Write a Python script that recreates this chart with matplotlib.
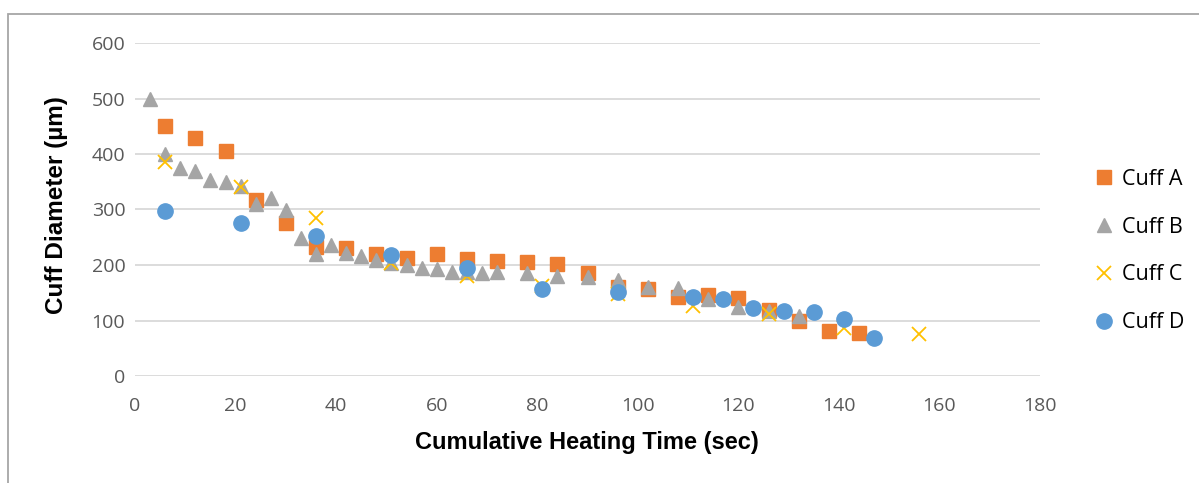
import matplotlib.pyplot as plt
from matplotlib.patches import Rectangle

# Cuff A (squares)
time_a = [6, 12, 18, 24, 30, 36, 42, 48, 54, 60, 66, 72, 78, 84, 90,
          96, 102, 108, 114, 120, 126, 132, 138, 144]
diam_a = [450, 428, 406, 318, 275, 233, 230, 220, 212, 220, 211, 208, 206, 202, 185,
          161, 156, 142, 146, 140, 119, 99, 81, 78]

# Cuff B (triangles)
time_b = [3, 6, 9, 12, 15, 18, 21, 24, 27, 30, 33, 36, 39, 42, 45, 48, 51, 54,
          57, 60, 63, 66, 69, 72, 78, 84, 90, 96, 102, 108, 114, 120, 126, 132]
diam_b = [500, 400, 374, 370, 354, 350, 342, 310, 320, 299, 248, 220, 236, 221, 216, 209, 203, 200,
          195, 192, 187, 188, 185, 188, 185, 180, 179, 173, 161, 158, 138, 125, 118, 108]

# Cuff C (crosses)
time_c = [6, 21, 36, 51, 66, 81, 96, 111, 126, 141, 156]
diam_c = [386, 340, 285, 203, 180, 162, 148, 126, 112, 86, 75]

# Cuff D (circles)
time_d = [6, 21, 36, 51, 66, 81, 96, 111, 117, 123, 129, 135, 141, 147]
diam_d = [298, 276, 252, 218, 194, 157, 151, 143, 139, 122, 118, 116, 103, 68]

fig = plt.figure(figsize=(11.99, 4.83), dpi=100)
ax = fig.add_axes([135 / 1199, 1 - 376 / 483, 905 / 1199, 333 / 483])

# outer chart border (cropped on right/bottom)
fig.patches.append(Rectangle((8 / 1199, -0.1), 1.2, 1 - 14 / 483 + 0.1,
                             transform=fig.transFigure, fill=False,
                             edgecolor='#A6A6A6', linewidth=1.3))

ax.plot(time_a, diam_a, 's', color='#ED7D31', markersize=9.5, label='Cuff A', zorder=3)
ax.plot(time_b, diam_b, '^', color='#A5A5A5', markersize=10, label='Cuff B', zorder=3)
ax.plot(time_c, diam_c, 'x', color='#FFC000', markersize=9.5, markeredgewidth=1.3,
        label='Cuff C', zorder=3)
ax.plot(time_d, diam_d, 'o', color='#5B9BD5', markersize=11, label='Cuff D', zorder=3)

ax.set_xlim(0, 180)
ax.set_ylim(0, 600)
ax.set_xticks(range(0, 181, 20))
ax.set_yticks(range(0, 601, 100))
ax.grid(axis='y', color='#D9D9D9', linewidth=1.3)
ax.set_axisbelow(True)
for s in ax.spines.values():
    s.set_visible(False)
ax.tick_params(length=0, labelcolor='#595959', labelsize=14)
ax.tick_params(axis='x', pad=15)
ax.tick_params(axis='y', pad=7)
for lbl in ax.get_xticklabels() + ax.get_yticklabels():
    lbl.set_fontfamily('Open Sans')

fig.text(587 / 1199, 1 - 443 / 483, 'Cumulative Heating Time (sec)', ha='center', va='center',
         fontsize=17, fontweight='bold', family='Liberation Sans')
fig.text(56 / 1199, 1 - 205 / 483, 'Cuff Diameter (µm)', ha='center', va='center',
         rotation=90, fontsize=17.5, fontweight='bold', family='Liberation Sans')

ax.legend(loc='center left', bbox_to_anchor=(1085 / 1199, 1 - 251 / 483),
          bbox_transform=fig.transFigure, frameon=False, handlelength=0.8,
          handletextpad=0.4, labelspacing=1.25, borderpad=0,
          prop={'family': 'Open Sans', 'size': 15.5})

fig.savefig('out.png', dpi=100)
